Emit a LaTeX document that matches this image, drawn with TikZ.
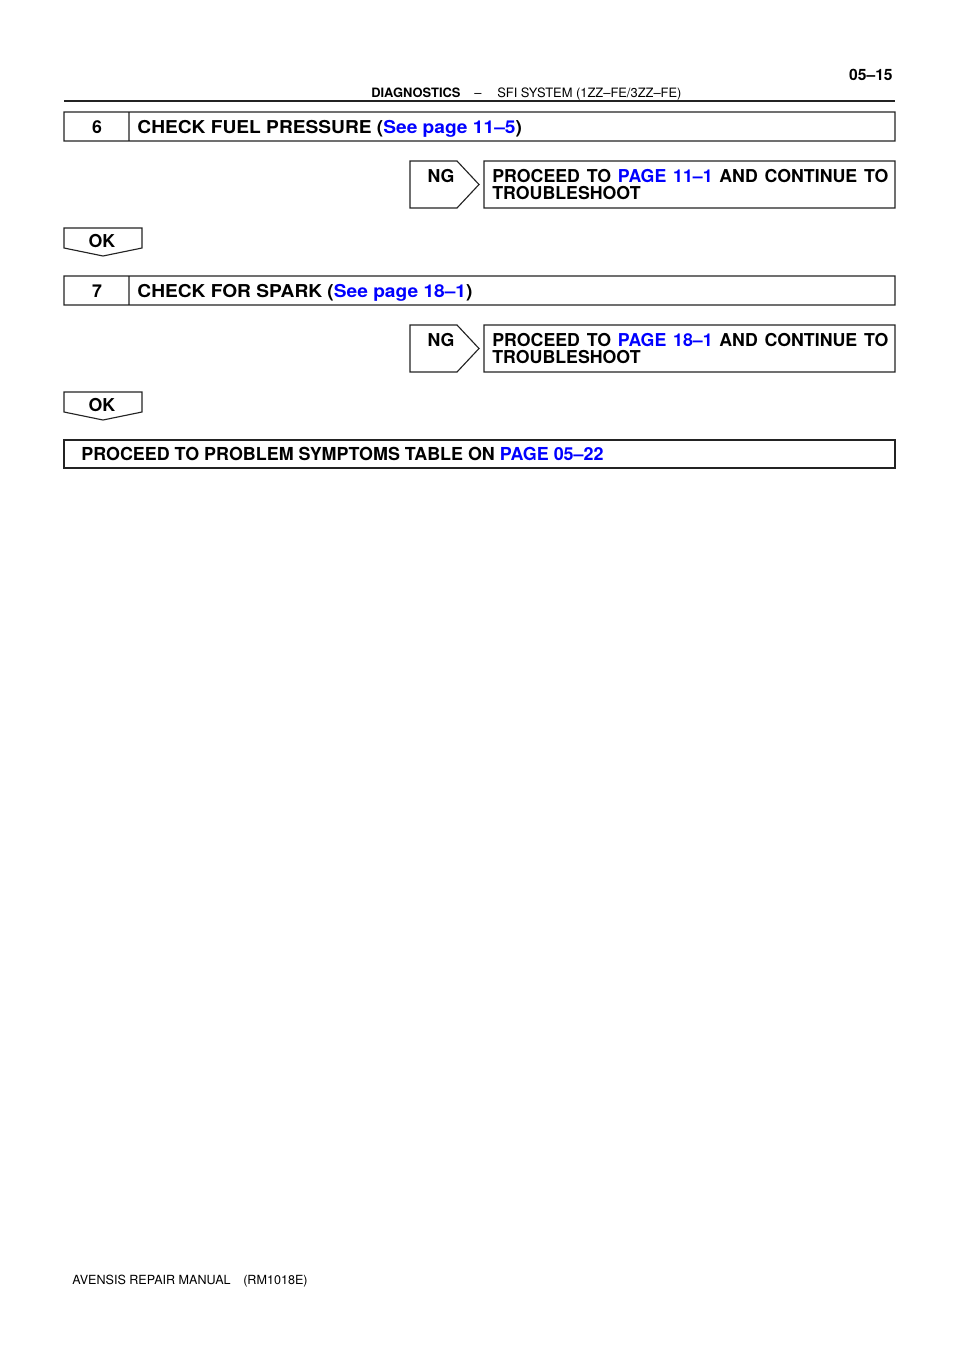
\documentclass[tikz,border=0pt]{standalone}
\usepackage{fontspec}
\setmainfont{TeX Gyre Heros}
\newfontfamily\widefont[Ligatures=TeX,FakeStretch=1.08]{TeX Gyre Heros}
\definecolor{linkblue}{RGB}{0,0,255}
\definecolor{frame}{RGB}{35,35,35}
\newcommand{\lnk}[1]{\textcolor{linkblue}{#1}}
\begin{document}
\begin{tikzpicture}[x=0.62pt,y=-0.62pt,line join=miter,
	font=\bfseries\fontsize{11}{13}\selectfont,
	frm/.style={draw=frame,line width=0.7pt},
	txt/.style={inner sep=0pt,anchor=base west},
	mid/.style={inner sep=0pt,anchor=base},
	wide/.style={font=\widefont\bfseries\fontsize{11}{13}\selectfont}]
				\def\l{64}
				\def\r{895}
				\useasboundingbox (0,0) rectangle (960,1358);
				% page head
				\draw[frame,line width=1pt] (\l,101)--(\r,101);
				\path
				(893,80) node[inner sep=0pt,anchor=base east,font=\bfseries\fontsize{9.7}{11}\selectfont] (pgno) {05--15}
				(371,97) node[txt,font=\bfseries\fontsize{8}{9}\selectfont] (hdiag) {DIAGNOSTICS}
				(478,97) node[mid,font=\mdseries\fontsize{8}{9}\selectfont] (hdash) {--}
				(497,97) node[txt,font=\mdseries\fontsize{8}{9}\selectfont] (hsys) {SFI SYSTEM (1ZZ--FE/3ZZ--FE)}
				;
				% step 6
				\draw[frm]
				(\l,112) rectangle (\r,141)
				(129,112)--(129,141)
				(410,161)--(457,161)--(479,184.5)--(457,208)--(410,208)--cycle
				(484,161) rectangle (\r,208)
				(64,228)--(142,228)--(142,248)--(103,256)--(64,248)--cycle
				;
				\path
				(97,133) node[mid] (n6) {6}
				(137,133) node[txt,wide] (t6) {CHECK FUEL PRESSURE (\lnk{See page 11--5})}
				(441,182) node[mid] (ng6) {NG}
				(492,182) node[txt] (p6a) {\makebox[245.5pt][s]{PROCEED TO \lnk{PAGE 11--1} AND CONTINUE TO}}
				(492,199) node[txt] (p6b) {TROUBLESHOOT}
				(102,247) node[mid] (ok6) {OK}
				;
				% step 7
				\draw[frm]
				(\l,276) rectangle (\r,305)
				(129,276)--(129,305)
				(410,325)--(457,325)--(479,348.5)--(457,372)--(410,372)--cycle
				(484,325) rectangle (\r,372)
				(64,392)--(142,392)--(142,412)--(103,420)--(64,412)--cycle
				;
				\path
				(97,297) node[mid] (n7) {7}
				(137,297) node[txt,wide] (t7) {CHECK FOR SPARK (\lnk{See page 18--1})}
				(441,346) node[mid] (ng7) {NG}
				(492,346) node[txt] (p7a) {\makebox[245.5pt][s]{PROCEED TO \lnk{PAGE 18--1} AND CONTINUE TO}}
				(492,363) node[txt] (p7b) {TROUBLESHOOT}
				(102,411) node[mid] (ok7) {OK}
				;
				% last step
				\draw[frm] (\l,440) rectangle (\r,468);
				\path
				(81,460) node[txt,font=\bfseries\fontsize{11.1}{13}\selectfont] (fin) {PROCEED TO PROBLEM SYMPTOMS TABLE ON \lnk{PAGE 05--22}}
				(72,1284) node[txt,font=\mdseries\fontsize{7.8}{9}\selectfont] (foot) {AVENSIS REPAIR MANUAL\quad(RM1018E)}
				;
\end{tikzpicture}
\end{document}
